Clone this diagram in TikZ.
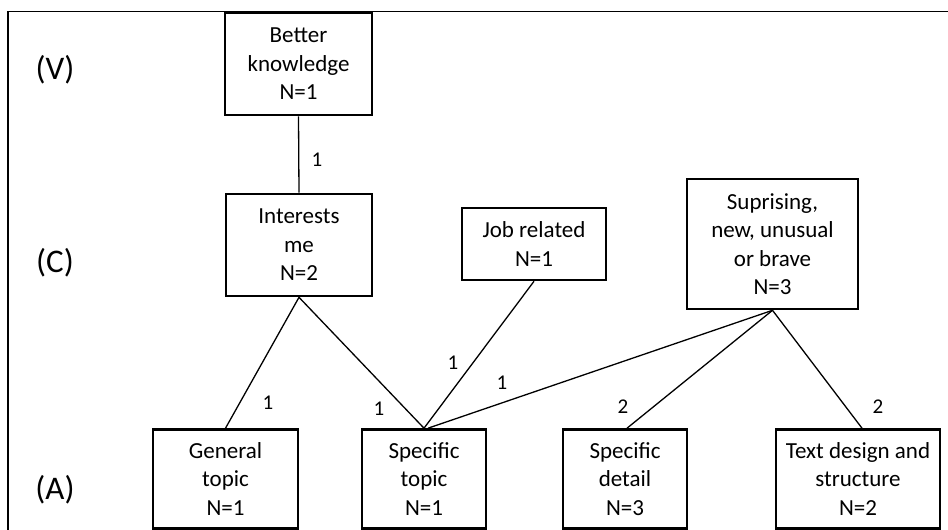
\documentclass[tikz,border=0pt]{standalone}
\usepackage{fontspec}
\setmainfont{Carlito}
\begin{document}
\begin{tikzpicture}[x=1pt,y=-1pt,
  box/.style={draw=black, line width=2.6pt, fill=white, align=center, inner sep=0pt,
    font=\fontsize{23}{28.5}\selectfont},
  link/.style={draw=black, line width=1.3pt},
  cnt/.style={font=\fontsize{21}{25}\selectfont, inner sep=0pt},
  level/.style={font=\fontsize{33}{38}\selectfont, inner sep=0pt}]
\useasboundingbox (0,0) rectangle (948,530);
% outer frame (open to the right and bottom)
\draw[line width=1.8pt] (948,11.5) -- (8,11.5) -- (8,532);

% level labels
\node[level] (lv) at (55,70) {(V)};
\node[level] (lc) at (55,263) {(C)};
\node[level] (la) at (55,490) {(A)};

% value level
\node[box, minimum width=147pt, minimum height=102pt] (know) at (298.5,64) {Better\\knowledge\\N=1};
% consequence level
\node[box, minimum width=146pt, minimum height=102pt] (inter) at (299,245) {Interests\\me\\N=2};
\node[box, minimum width=144pt, minimum height=72pt] (job) at (534,244) {Job related\\N=1};
\node[box, minimum width=171pt, minimum height=130pt] (surp) at (772.5,244) {Suprising,\\new, unusual\\or brave\\N=3};
% attribute level
\node[box, minimum width=145pt, minimum height=99pt] (gen) at (225.5,479) {General\\topic\\N=1};
\node[box, minimum width=124pt, minimum height=99pt] (spt) at (424,479) {Specific\\topic\\N=1};
\node[box, minimum width=124pt, minimum height=99pt] (spd) at (625,479) {Specific\\detail\\N=3};
\node[box, minimum width=164pt, minimum height=99pt] (txt) at (858,479) {Text design and\\structure\\N=2};

% links
\draw[link] (know.south) -- (inter.north);
\draw[link] (inter.south) -- (gen.north);
\draw[link] (inter.south) -- (spt.north);
\draw[link] (job.south) -- (spt.north);
\draw[link] (surp.south) -- ([xshift=4pt]spt.north);
\draw[link] (surp.south) -- ([xshift=2pt]spd.north);
\draw[link] (surp.south) -- ([xshift=4pt]txt.north);

% link counts
\node[cnt] (n1) at (317,160) {1};
\node[cnt] (n2) at (268,403) {1};
\node[cnt] (n3) at (379,409) {1};
\node[cnt] (n4) at (453,363) {1};
\node[cnt] (n5) at (502,383) {1};
\node[cnt] (n6) at (623,407) {2};
\node[cnt] (n7) at (878,407) {2};
\end{tikzpicture}
\end{document}
